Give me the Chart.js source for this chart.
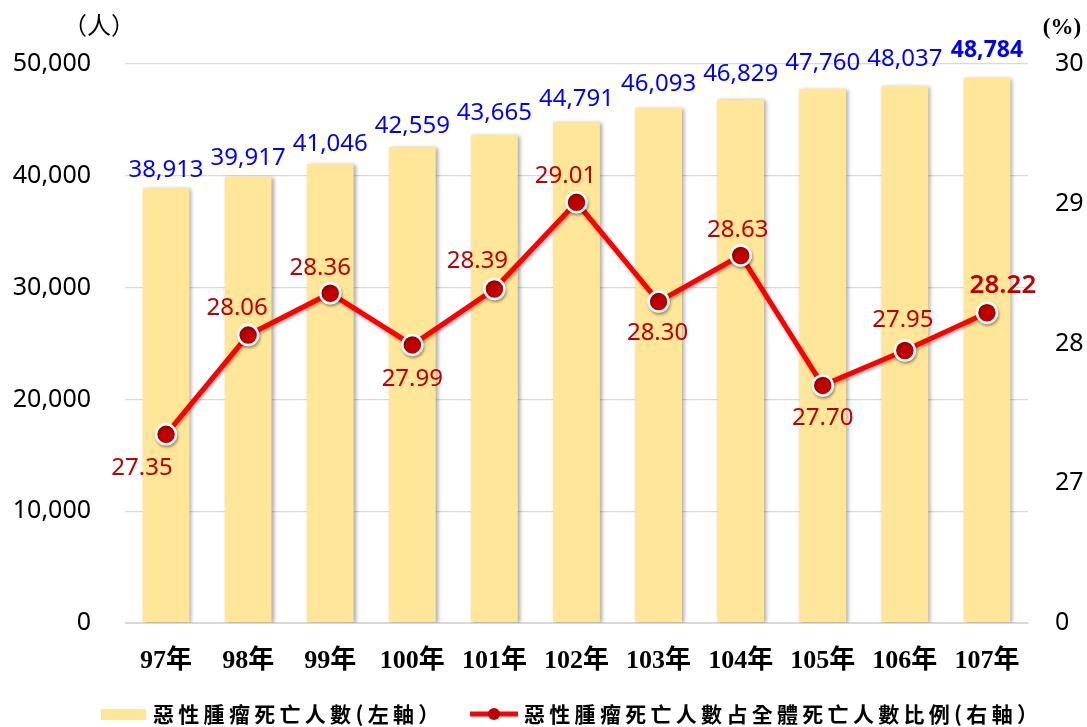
<!DOCTYPE html>
<html>
<head>
<meta charset="utf-8">
<script src="https://cdn.jsdelivr.net/npm/chart.js@4.4.1/dist/chart.umd.min.js"></script>
<style>
  html, body { margin: 0; padding: 0; background: #ffffff; }
  #wrap { width: 1087px; height: 727px; position: relative; }
</style>
</head>
<body>
<div id="wrap"><canvas id="cancerChart" width="1087" height="727"></canvas></div>
<script>
'use strict';

// data
const years = ['97年', '98年', '99年', '100年', '101年', '102年', '103年', '104年', '105年', '106年', '107年'];
const deaths = [38913, 39917, 41046, 42559, 43665, 44791, 46093, 46829, 47760, 48037, 48784];
const ratios = [27.35, 28.06, 28.36, 27.99, 28.39, 29.01, 28.30, 28.63, 27.70, 27.95, 28.22];
const rightTickLabels = ['0', '27', '28', '29', '30'];

const barLegend = '惡性腫瘤死亡人數(左軸）';
const lineLegend = '惡性腫瘤死亡人數占全體死亡人數比例(右軸）';

// where each ratio label sits relative to its point (dx, dy)
const ratioLabelOffsets = [
  [-24, 34], [-11, -27], [-10, -25], [0, 34], [-17, -28], [-11, -26],
  [-1, 32], [-3, -25], [0, 33], [-2, -30], [16, -27],
];

const BAR_COLOR = '#FFE699';
const LINE_COLOR = '#FF0000';
const POINT_COLOR = '#C00000';
const GRID_COLOR = '#D9D9D9';
const NUM_FONT = '"Noto Sans", "Open Sans", sans-serif';
const CJK_FONT = '"Noto Sans CJK TC", "Noto Sans CJK SC", sans-serif';

const shadowPlugin = {
  id: 'shadows',
  beforeDatasetDraw(chart, args) {
    const ctx = chart.ctx;
    ctx.save();
    if (args.index === 0) {
      ctx.shadowColor = 'rgba(0,0,0,0.35)';
      ctx.shadowBlur = 4;
      ctx.shadowOffsetX = 2;
      ctx.shadowOffsetY = 1;
    } else {
      ctx.shadowColor = 'rgba(0,0,0,0.3)';
      ctx.shadowBlur = 3;
      ctx.shadowOffsetX = 1;
      ctx.shadowOffsetY = 2;
    }
  },
  afterDatasetDraw(chart) {
    chart.ctx.restore();
  },
};

const labelPlugin = {
  id: 'valueLabels',
  afterDatasetsDraw(chart) {
    const ctx = chart.ctx;
    ctx.save();
    ctx.textAlign = 'center';
    ctx.textBaseline = 'alphabetic';

    // bar values
    const barMeta = chart.getDatasetMeta(0);
    barMeta.data.forEach((bar, i) => {
      const last = i === deaths.length - 1;
      ctx.font = (last ? 'bold 23px ' : '24px ') + NUM_FONT;
      ctx.fillStyle = '#0000FF';
      ctx.fillText(deaths[i].toLocaleString('en-US'), bar.x, bar.y - 11 - i);
    });

    // ratio values
    const lineMeta = chart.getDatasetMeta(1);
    ctx.textBaseline = 'middle';
    lineMeta.data.forEach((pt, i) => {
      const last = i === ratios.length - 1;
      ctx.font = (last ? '600 26px ' : '24px ') + NUM_FONT;
      ctx.fillStyle = POINT_COLOR;
      const off = ratioLabelOffsets[i];
      ctx.fillText(ratios[i].toFixed(2), pt.x + off[0], pt.y + off[1]);
    });

    // axis units
    ctx.fillStyle = '#000000';
    ctx.font = '24px ' + CJK_FONT;
    ctx.textAlign = 'center';
    ctx.fillText('（人）', 99, 25);
    ctx.font = 'bold 23px "Liberation Serif", serif';
    ctx.fillText('(%)', 1062, 28);
    ctx.restore();
  },
};

const legendPlugin = {
  id: 'bottomLegend',
  afterDraw(chart) {
    const ctx = chart.ctx;
    const y = 714;
    ctx.save();
    ctx.fillStyle = BAR_COLOR;
    ctx.fillRect(101, y - 5, 45, 11);

    ctx.strokeStyle = LINE_COLOR;
    ctx.lineWidth = 5;
    ctx.beginPath();
    ctx.moveTo(470, y);
    ctx.lineTo(518, y);
    ctx.stroke();
    ctx.fillStyle = POINT_COLOR;
    ctx.beginPath();
    ctx.arc(494, y, 6, 0, Math.PI * 2);
    ctx.fill();

    ctx.fillStyle = '#000000';
    ctx.font = 'bold 21px ' + CJK_FONT;
    ctx.textBaseline = 'middle';
    ctx.textAlign = 'left';
    ctx.letterSpacing = '4.3px';
    ctx.fillText(barLegend, 153, y);
    ctx.fillText(lineLegend, 524, y);
    ctx.restore();
  },
};

const chartConfig = {
  data: {
    labels: years,
    datasets: [
      {
        type: 'bar',
        label: barLegend,
        data: deaths,
        yAxisID: 'y',
        backgroundColor: BAR_COLOR,
        borderWidth: 0,
        barPercentage: 0.57,
        categoryPercentage: 1.0,
        order: 2,
      },
      {
        type: 'line',
        label: lineLegend,
        data: ratios,
        yAxisID: 'y1',
        borderColor: LINE_COLOR,
        borderWidth: 5,
        pointRadius: 10,
        pointBackgroundColor: POINT_COLOR,
        pointBorderColor: '#FFFFFF',
        pointBorderWidth: 2.5,
        tension: 0,
        order: 1,
      },
    ],
  },
  options: {
    responsive: false,
    animation: false,
    layout: { padding: { top: 64, left: 0, right: 0, bottom: 0 } },
    plugins: {
      legend: { display: false },
      tooltip: { enabled: false },
    },
    scales: {
      x: {
        grid: { display: false },
        border: { display: true, color: GRID_COLOR },
        ticks: {
          color: '#000000',
          padding: 15,
          font: { family: '"Liberation Serif", "Noto Sans CJK TC", serif', size: 26, weight: 'bold' },
        },
        afterFit(scale) { scale.height = 104; },
      },
      y: {
        position: 'left',
        min: 0,
        max: 50000,
        ticks: {
          stepSize: 10000,
          color: '#000000',
          padding: 34,
          font: { family: NUM_FONT, size: 25 },
          callback: (v) => v.toLocaleString('en-US'),
        },
        grid: { color: GRID_COLOR, lineWidth: 1.3, drawTicks: false },
        border: { display: false },
        afterFit(scale) { scale.width = 125; },
      },
      y1: {
        position: 'right',
        min: 26,
        max: 30,
        ticks: {
          stepSize: 1,
          color: '#000000',
          padding: 27,
          font: { family: NUM_FONT, size: 25 },
          callback: (v, i) => rightTickLabels[i],
        },
        grid: { display: false, drawTicks: false },
        border: { display: false },
        afterFit(scale) { scale.width = 59; },
      },
    },
  },
  plugins: [shadowPlugin, labelPlugin, legendPlugin],
};

new Chart(document.getElementById('cancerChart'), chartConfig);
</script>
</body>
</html>
